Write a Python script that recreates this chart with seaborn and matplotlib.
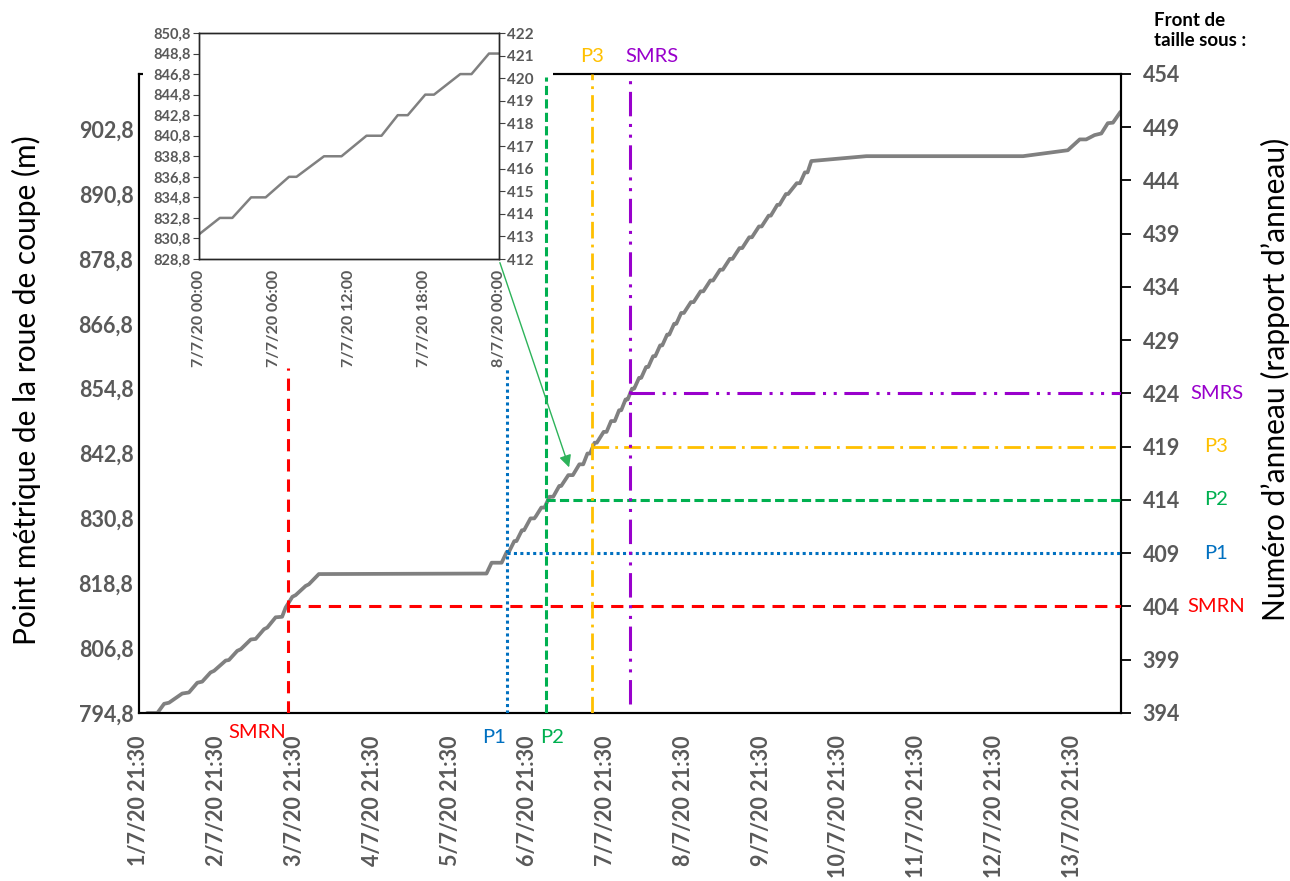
import matplotlib
matplotlib.use("Agg")
import matplotlib.pyplot as plt
import matplotlib.transforms as mtransforms
from matplotlib.patches import Rectangle, FancyArrowPatch
import seaborn as sns
import pandas as pd

# ---------------- data ----------------
times = [
    "2020-07-02 00:00", "2020-07-02 03:10", "2020-07-02 05:15", "2020-07-02 06:45",
    "2020-07-02 10:50", "2020-07-02 12:55", "2020-07-02 15:30", "2020-07-02 17:00",
    "2020-07-02 19:35", "2020-07-02 20:40", "2020-07-03 00:15", "2020-07-03 01:15",
    "2020-07-03 03:50", "2020-07-03 04:55", "2020-07-03 08:00", "2020-07-03 09:30",
    "2020-07-03 12:05", "2020-07-03 13:05", "2020-07-03 15:40", "2020-07-03 17:40",
    "2020-07-03 18:45", "2020-07-03 20:50", "2020-07-03 21:50", "2020-07-04 00:55",
    "2020-07-04 01:55", "2020-07-04 05:00", "2020-07-06 08:45", "2020-07-06 10:20",
    "2020-07-06 13:25", "2020-07-06 15:00", "2020-07-06 15:40", "2020-07-06 17:20",
    "2020-07-06 18:00", "2020-07-06 19:40", "2020-07-06 20:20", "2020-07-06 22:20",
    "2020-07-06 23:30", "2020-07-07 00:00", "2020-07-07 01:40", "2020-07-07 02:40",
    "2020-07-07 04:10", "2020-07-07 05:20", "2020-07-07 07:12", "2020-07-07 07:48",
    "2020-07-07 10:00", "2020-07-07 11:24", "2020-07-07 13:24", "2020-07-07 14:36",
    "2020-07-07 15:54", "2020-07-07 16:42", "2020-07-07 18:06", "2020-07-07 18:48",
    "2020-07-07 20:54", "2020-07-07 21:48", "2020-07-07 23:12", "2020-07-08 00:20",
    "2020-07-08 01:40", "2020-07-08 02:20", "2020-07-08 03:40", "2020-07-08 04:20",
    "2020-07-08 05:40", "2020-07-08 06:20", "2020-07-08 07:50", "2020-07-08 08:30",
    "2020-07-08 10:00", "2020-07-08 10:40", "2020-07-08 12:10", "2020-07-08 12:50",
    "2020-07-08 14:20", "2020-07-08 15:00", "2020-07-08 16:30", "2020-07-08 17:10",
    "2020-07-08 18:40", "2020-07-08 19:20", "2020-07-08 20:50", "2020-07-08 21:40",
    "2020-07-08 23:50", "2020-07-09 00:40", "2020-07-09 02:50", "2020-07-09 03:40",
    "2020-07-09 05:50", "2020-07-09 06:40", "2020-07-09 08:50", "2020-07-09 09:40",
    "2020-07-09 11:50", "2020-07-09 12:40", "2020-07-09 14:50", "2020-07-09 15:40",
    "2020-07-09 17:50", "2020-07-09 18:40", "2020-07-09 20:50", "2020-07-09 21:40",
    "2020-07-09 23:50", "2020-07-10 00:30", "2020-07-10 02:30", "2020-07-10 03:10",
    "2020-07-10 05:10", "2020-07-10 05:50", "2020-07-10 08:30", "2020-07-10 09:30",
    "2020-07-10 11:00", "2020-07-10 11:50", "2020-07-10 13:00", "2020-07-11 06:00",
    "2020-07-13 06:20", "2020-07-13 20:10", "2020-07-13 23:50", "2020-07-14 01:50",
    "2020-07-14 04:25", "2020-07-14 06:30", "2020-07-14 08:30", "2020-07-14 10:05",
    "2020-07-14 12:25",
]
pm_values = [
    794.8, 794.8, 796.5, 796.7,
    798.4, 798.6, 800.4, 800.6,
    802.3, 802.6, 804.5, 804.6,
    806.3, 806.6, 808.4, 808.5,
    810.3, 810.6, 812.5, 812.6,
    814.3, 816.3, 816.6, 818.3,
    818.6, 820.5, 820.6, 822.6,
    822.6, 824.6, 824.6, 826.6,
    826.6, 828.6, 828.6, 830.8,
    830.8, 831.2, 832.8, 832.8,
    834.8, 834.8, 836.8, 836.8,
    838.8, 838.8, 840.8, 840.8,
    842.8, 842.8, 844.8, 844.8,
    846.8, 846.8, 848.8, 848.8,
    850.8, 850.8, 852.8, 852.8,
    854.8, 854.8, 856.8, 856.8,
    858.8, 858.8, 860.8, 860.8,
    862.8, 862.8, 864.8, 864.8,
    866.8, 866.8, 868.8, 868.8,
    870.8, 870.8, 872.8, 872.8,
    874.8, 874.8, 876.8, 876.8,
    878.8, 878.8, 880.8, 880.8,
    882.8, 882.8, 884.8, 884.8,
    886.8, 886.8, 888.8, 888.8,
    890.8, 890.8, 892.8, 892.8,
    894.8, 894.8, 896.9, 897.8,
    897.8, 898.9, 900.9, 900.9,
    901.7, 902.0, 903.9, 904.0,
    906.0,
]

xtick_times = ["2020-07-%02d 21:30" % d for d in range(1, 14)]
xtick_labels = ["%d/7/20 21:30" % d for d in range(1, 14)]

left_ticks = [794.8, 806.8, 818.8, 830.8, 842.8, 854.8, 866.8, 878.8, 890.8, 902.8]
left_labels = ["794,8", "806,8", "818,8", "830,8", "842,8", "854,8", "866,8", "878,8", "890,8", "902,8"]
ring_ticks = [394, 399, 404, 409, 414, 419, 424, 429, 434, 439, 444, 449, 454]

event_names = ["SMRN", "P1", "P2", "P3", "SMRS"]
event_times = ["2020-07-03 19:20", "2020-07-06 15:05", "2020-07-07 03:10",
               "2020-07-07 17:20", "2020-07-08 05:10"]
event_rings = [404, 409, 414, 419, 424]
event_colors = ["#FF0000", "#0070C0", "#00B050", "#FFC000", "#9900CC"]
event_vtop = [426.4, 426.4, 453.7, 454.0, 454.0]
event_vbottom = [394.0, 394.0, 394.0, 394.0, 394.8]
event_styles = [(0, (4, 2.6)), (0, (1, 1.1)), (0, (3, 1.4)),
                (0, (6, 2.2, 1, 2.2)), (0, (8, 2.5, 1, 2.5, 1, 2.5))]

inset_xticks = ["2020-07-07 00:00", "2020-07-07 06:00", "2020-07-07 12:00",
                "2020-07-07 18:00", "2020-07-08 00:00"]
inset_xlabels = ["7/7/20 00:00", "7/7/20 06:00", "7/7/20 12:00", "7/7/20 18:00", "8/7/20 00:00"]
inset_left_ticks = [828.8, 830.8, 832.8, 834.8, 836.8, 838.8, 840.8, 842.8, 844.8, 846.8, 848.8, 850.8]
inset_left_labels = ["828,8", "830,8", "832,8", "834,8", "836,8", "838,8",
                     "840,8", "842,8", "844,8", "846,8", "848,8", "850,8"]
inset_ring_ticks = [412, 413, 414, 415, 416, 417, 418, 419, 420, 421, 422]

# ---------------- style ----------------
sns.set_style("white")
plt.rcParams['font.family'] = ['Lato', 'DejaVu Sans']

df = pd.DataFrame({"time": pd.to_datetime(times), "pm": pm_values})

GRAY_TXT = "#595959"
LINE_GRAY = "#808080"
W, H = 1290, 881

fig = plt.figure(figsize=(12.9, 8.81), dpi=100)
ax = fig.add_axes([139 / W, 1 - 713 / H, (1120.5 - 139) / W, (713 - 74) / H])

sns.lineplot(data=df, x="time", y="pm", ax=ax, color=LINE_GRAY, lw=2.7, zorder=3)

x0 = pd.Timestamp("2020-07-01 21:30")
x1 = pd.Timestamp("2020-07-14 12:25")
ax.set_xlim(x0, x1)
ax.set_ylim(794.8, 913.0)
ax.set_xticks(pd.to_datetime(xtick_times))
ax.set_xticklabels(xtick_labels, rotation=90, ha="center", va="top",
                   fontsize=15.5, fontweight="bold", color=GRAY_TXT)
ax.set_yticks(left_ticks)
ax.set_yticklabels(left_labels, fontsize=15.5, fontweight="bold", color=GRAY_TXT)
ax.tick_params(axis="x", length=0, pad=16)
ax.tick_params(axis="y", length=0, pad=4)
ax.set_xlabel("")
ax.set_ylabel("Point métrique de la roue de coupe (m)", fontsize=21.5, color="black")
ax.yaxis.set_label_coords(-0.100, 0.505)
for s in ax.spines.values():
    s.set_color("black")
    s.set_linewidth(1.5)

ax2 = ax.twinx()
ax2.set_ylim(394, 454)
ax2.set_yticks(ring_ticks)
ax2.set_yticklabels([str(t) for t in ring_ticks], fontsize=15.5, fontweight="bold", color=GRAY_TXT)
ax2.tick_params(axis="y", direction="out", length=7, width=1.3, color="black", pad=9)
ax2.set_ylabel("Numéro d’anneau (rapport d’anneau)", fontsize=21.5, color="black", rotation=90)
ax2.yaxis.set_label_coords(1.143, 0.522)
for s in ax2.spines.values():
    s.set_color("black")
    s.set_linewidth(1.5)

ev_t = pd.to_datetime(event_times)
rt = mtransforms.blended_transform_factory(ax2.transAxes, ax2.transData)
for name, t, r, c, vt, vb, ls in zip(event_names, ev_t, event_rings, event_colors,
                                     event_vtop, event_vbottom, event_styles):
    lw = 2.0 if name == "P3" else 2.2
    ax2.plot([t, t], [vb, vt], color=c, lw=lw, linestyle=ls, zorder=4)
    ax2.plot([t, x1], [r, r], color=c, lw=lw, linestyle=ls, zorder=4)
    ax2.text(1.0978, r, name, transform=rt, ha="center", va="center", fontsize=14.5, color=c)

bt = mtransforms.blended_transform_factory(ax.transData, ax.transAxes)
ax.text(ev_t[0] - pd.Timedelta(hours=0.3), -0.031, "SMRN", transform=bt, ha="right", va="center",
        fontsize=14.5, color=event_colors[0])
ax.text(ev_t[1] - pd.Timedelta(hours=0.4), -0.039, "P1", transform=bt, ha="right", va="center",
        fontsize=14.5, color=event_colors[1])
ax.text(ev_t[2] - pd.Timedelta(hours=2.0), -0.039, "P2", transform=bt, ha="left", va="center",
        fontsize=14.5, color=event_colors[2])
ax.text(ev_t[3], 1.027, "P3", transform=bt, ha="center", va="center",
        fontsize=14.5, color=event_colors[3])
ax.text(ev_t[4] - pd.Timedelta(hours=1.5), 1.027, "SMRS", transform=bt, ha="left", va="center",
        fontsize=14.5, color=event_colors[4])

fig.text(1154 / W, 1 - 12 / H, "Front de\ntaille sous :", ha="left", va="top",
         fontsize=13.5, fontweight="bold", color="black", linespacing=1.25)

# white backing behind the inset (hides the main frame under it)
fig.add_artist(Rectangle((143 / W, 1 - 300 / H), (540 - 143) / W, (300 - 15) / H,
                         transform=fig.transFigure, facecolor="white", edgecolor="none", zorder=5))
fig.add_artist(Rectangle((540 / W, 1 - 76.5 / H), (553 - 540) / W, 10 / H,
                         transform=fig.transFigure, facecolor="white", edgecolor="none", zorder=5))

# ---------------- inset ----------------
axin = fig.add_axes([199 / W, 1 - 259 / H, 300 / W, 226 / H], zorder=10)
axin.set_facecolor("white")
sns.lineplot(data=df, x="time", y="pm", ax=axin, color=LINE_GRAY, lw=1.8)
axin.set_xlim(pd.Timestamp(inset_xticks[0]), pd.Timestamp(inset_xticks[-1]))
axin.set_ylim(828.8, 850.8)
axin.set_xticks(pd.to_datetime(inset_xticks))
axin.set_xticklabels(inset_xlabels, rotation=90, ha="center", va="top",
                     fontsize=11.5, fontweight="bold", color=GRAY_TXT)
axin.set_yticks(inset_left_ticks)
axin.set_yticklabels(inset_left_labels, fontsize=10.5, fontweight="bold", color=GRAY_TXT)
axin.tick_params(axis="y", direction="out", length=4, width=0.8, color="#404040", pad=2)
axin.tick_params(axis="x", length=0, pad=8)
axin.set_xlabel("")
axin.set_ylabel("")
for s in axin.spines.values():
    s.set_color("#262626")
    s.set_linewidth(1.0)

axin2 = axin.twinx()
axin2.set_ylim(412, 422)
axin2.set_yticks(inset_ring_ticks)
axin2.set_yticklabels([str(t) for t in inset_ring_ticks], fontsize=11, fontweight="bold", color=GRAY_TXT)
axin2.tick_params(axis="y", direction="out", length=4, width=0.8, color="#404040", pad=2)
for s in axin2.spines.values():
    s.set_color("#262626")
    s.set_linewidth(1.0)

# arrow from inset to main curve
fig.add_artist(FancyArrowPatch(
    (499 / W, 1 - 260 / H), (570 / W, 1 - 470 / H),
    transform=fig.transFigure, arrowstyle="-|>", mutation_scale=18,
    color="#2DB35A", lw=1.0, zorder=20))

fig.savefig("out.png", dpi=100)
